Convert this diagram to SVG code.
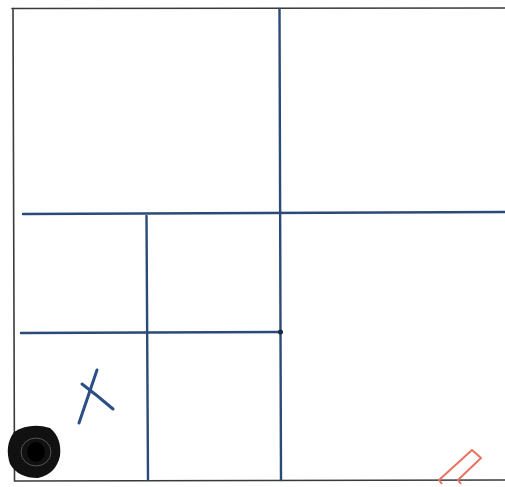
<svg xmlns="http://www.w3.org/2000/svg" width="505" height="487" viewBox="0 0 505 487">
<style>
.frame{stroke:#3a3a3a;stroke-width:1.6;fill:none;stroke-linecap:round}
.ink{stroke:#2c4a78;stroke-width:2.4;fill:none;stroke-linecap:round}
.pen{stroke:#2a4f86;stroke-width:3;fill:none;stroke-linecap:round}
</style>
<rect width="505" height="487" fill="#ffffff"/>
<g id="frame">
<path class="frame" d="M12 8.5 L505 8"/>
<path class="frame" d="M13 8.5 L14.5 481"/>
<path class="frame" d="M15 481 L505 480"/>
</g>
<g id="lines">
<path class="ink" d="M279.5 9 L280.5 332"/>
<path class="ink" d="M280.5 332 L281 480" stroke="#4a6690" stroke-width="2"/>
<path class="ink" d="M23 214 L505 212"/>
<path class="ink" d="M146.5 216 L148 480"/>
<path class="ink" d="M21 333 L280 332"/>
<circle cx="280.5" cy="332" r="2.5" fill="#1b2a44"/>
</g>
<g id="mark-x">
<path class="pen" d="M97 370 L79 423"/>
<path class="pen" d="M82 384 Q98 396 113 409"/>
</g>
<g id="blob">
<path d="M14 432 Q30 422 50 428 Q62 438 60 456 Q56 474 38 478 Q18 478 10 464 Q4 446 14 432 Z" fill="#111"/>
<ellipse cx="36" cy="452" rx="15" ry="14" fill="none" stroke="#555" stroke-width="1"/>
<ellipse cx="36" cy="452" rx="9" ry="10" fill="#000"/>
</g>
<g id="chevron">
<path d="M442 484 L439 480 L472 450 L481 458 L458 480 L461 484" fill="none" stroke="#e8735f" stroke-width="2" stroke-linejoin="round"/>
</g>
</svg>
